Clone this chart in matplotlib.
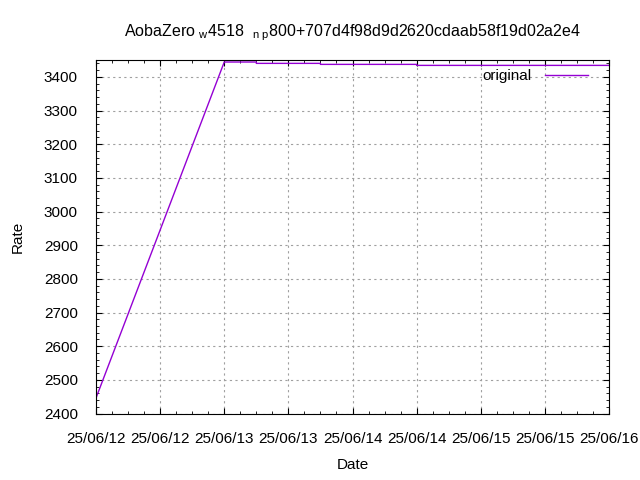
import datetime as dt
import matplotlib
matplotlib.use("Agg")
import matplotlib.pyplot as plt
import matplotlib.dates as mdates
from matplotlib.ticker import MultipleLocator

plt.rcParams['font.family'] = ['Liberation Sans', 'DejaVu Sans']
plt.rcParams['mathtext.fontset'] = 'custom'
plt.rcParams['mathtext.rm'] = 'Liberation Sans'

# data
dates = [dt.datetime(2025, 6, 12, 0, 0), dt.datetime(2025, 6, 13, 0, 0),
         dt.datetime(2025, 6, 13, 6, 0), dt.datetime(2025, 6, 13, 18, 0),
         dt.datetime(2025, 6, 14, 12, 0), dt.datetime(2025, 6, 16, 0, 0)]
rates = [2446, 3444, 3440, 3437, 3434, 3434]
# draw as steps after the first segment
xs = [dates[0], dates[1]]
ys = [rates[0], rates[1]]
for i in range(2, len(dates)):
    xs += [dates[i], dates[i]]
    ys += [rates[i - 1], rates[i]]

title = r"AobaZero $_{\rm w}$4518  $_{\rm n\ p}$800+707d4f98d9d2620cdaab58f19d02a2e4"
fs = 11

fig = plt.figure(figsize=(6.4, 4.8), dpi=100)
ax = fig.add_axes([0.15, 0.1385, 0.8016, 0.7365])
ax.plot(xs, ys, color='#9400d3', lw=1, label='original')

ax.set_xlim(dt.datetime(2025, 6, 12), dt.datetime(2025, 6, 16))
ax.set_ylim(2400, 3450)
ax.xaxis.set_major_locator(mdates.HourLocator(byhour=[0, 12]))
ax.xaxis.set_minor_locator(mdates.HourLocator(byhour=range(0, 24, 3)))
ax.xaxis.set_major_formatter(mdates.DateFormatter('%y/%m/%d'))
ax.yaxis.set_major_locator(MultipleLocator(100))
ax.yaxis.set_minor_locator(MultipleLocator(20))

ax.tick_params(which='both', direction='in', top=True, right=True, labelsize=fs, pad=13)
ax.tick_params(which='major', length=4)
ax.tick_params(which='minor', length=2)
ax.grid(True, which='major', color='#a0a0a0', linestyle=(0, (2, 3)), lw=0.8)

ax.set_title(title, fontsize=11.5, pad=17)
ax.set_xlabel('Date', fontsize=fs, labelpad=9)
ax.set_ylabel('Rate', fontsize=fs, labelpad=14)
ax.legend(loc='upper right', bbox_to_anchor=(0.985, 1.013), frameon=False,
          markerfirst=False, handlelength=2.8, handletextpad=0.9, fontsize=fs)

fig.savefig('out.png', dpi=100)
